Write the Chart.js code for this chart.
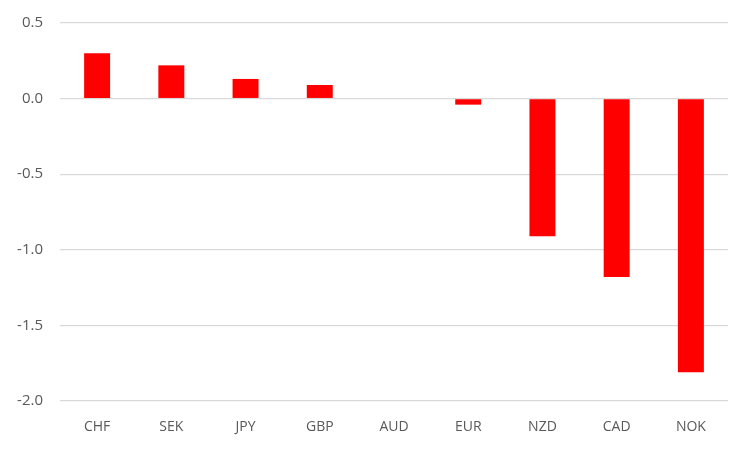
<!DOCTYPE html>
<html>
<head>
<meta charset="UTF-8">
<title>Currency chart</title>
<script src="https://cdn.jsdelivr.net/npm/chart.js@4"></script>
<style>
  body { margin: 0; background: #fff; }
  #wrap { width: 749px; height: 450px; }
</style>
</head>
<body>
<div id="wrap"><canvas id="myChart"></canvas></div>
<script>
  // values
  const currencies = ['CHF', 'SEK', 'JPY', 'GBP', 'AUD', 'EUR', 'NZD', 'CAD', 'NOK'];
  const changes = [0.30, 0.22, 0.13, 0.09, 0.0, -0.04, -0.91, -1.18, -1.81];

  const tickFont = { family: "'Open Sans', 'Liberation Sans', sans-serif", size: 14 };

  new Chart('myChart', {
    type: 'bar',
    data: {
      labels: currencies,
      datasets: [{
        data: changes,
        backgroundColor: '#ff0000',
        borderWidth: 0,
        barPercentage: 0.35,
        categoryPercentage: 1.0
      }]
    },
    options: {
      responsive: true,
      maintainAspectRatio: false,
      animation: false,
      layout: { padding: { top: 23, right: 21, left: 0, bottom: 0 } },
      plugins: { legend: { display: false }, tooltip: { enabled: false } },
      scales: {
        x: {
          grid: { display: false },
          border: { display: false },
          ticks: { color: '#595959', font: tickFont, padding: 10 },
          afterFit: function(scale) { scale.height = 49; scale.paddingLeft = 0; scale.paddingRight = 0; }
        },
        y: {
          min: -2, max: 0.5,
          grid: { color: '#d9d9d9', lineWidth: 1.3, drawTicks: false },
          border: { display: false },
          ticks: {
            stepSize: 0.5,
            color: '#595959',
            font: { family: tickFont.family, size: 15 },
            padding: 17,
            callback: function(v) { return v.toFixed(1); }
          },
          afterFit: function(scale) { scale.width = 60; scale.paddingTop = 0; scale.paddingBottom = 0; }
        }
      }
    }
  });
</script>
</body>
</html>
